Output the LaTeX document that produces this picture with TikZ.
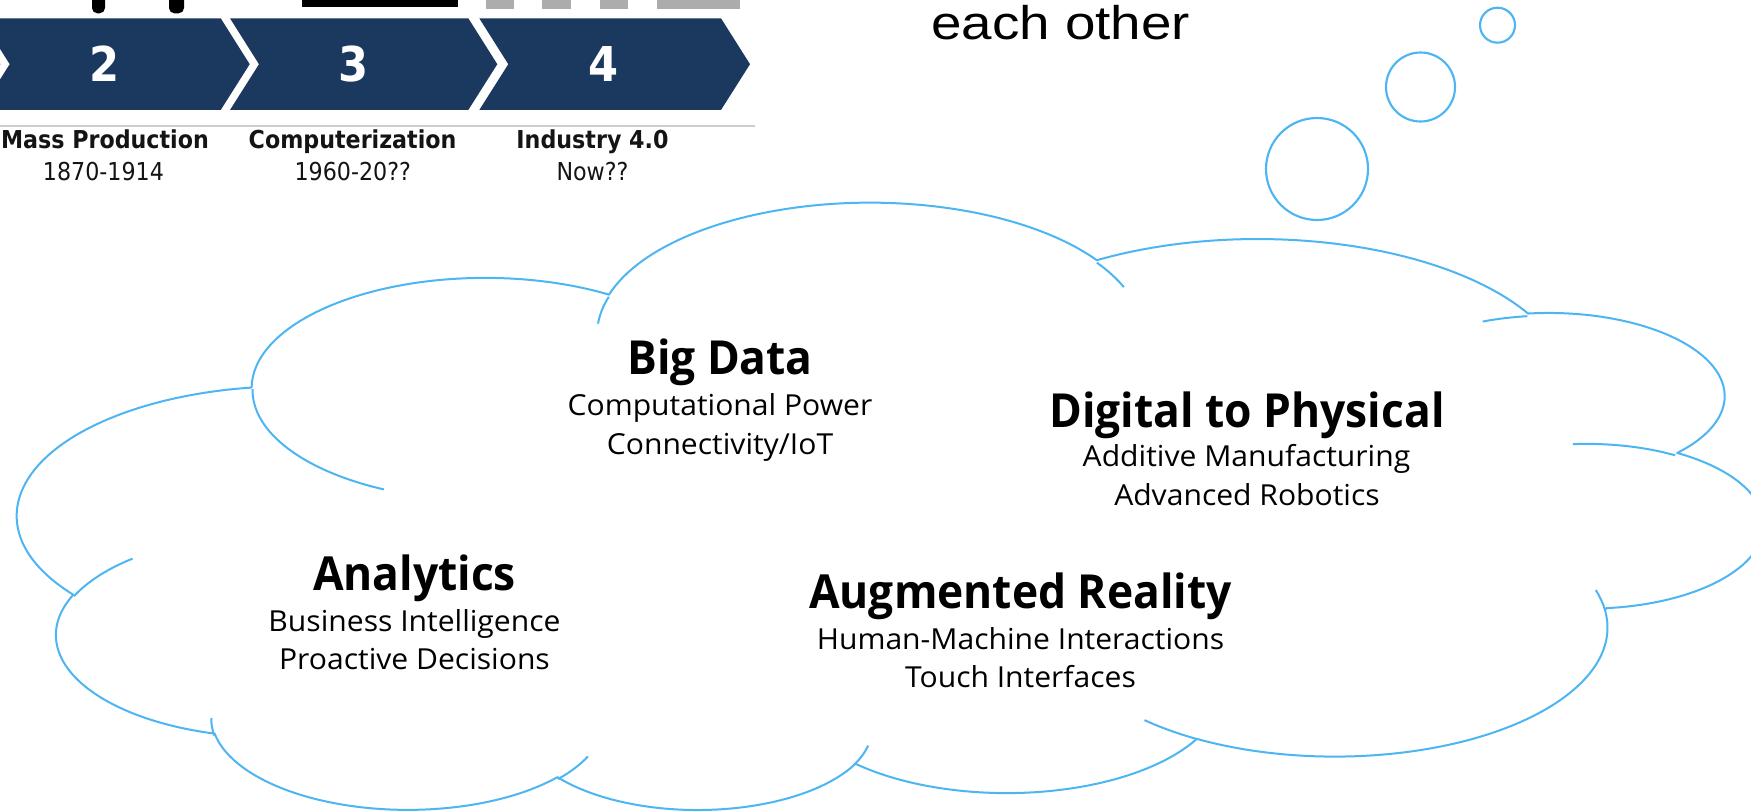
\documentclass[tikz,border=0pt]{standalone}
\usepackage{fontspec}
\setmainfont{Open Sans}
\newfontfamily\subfont[FakeStretch=1.04]{Open Sans}
\newfontfamily\headfont[FakeStretch=0.945]{Open Sans}
\newfontfamily\chevfont[FakeStretch=0.9]{DejaVu Sans}
\newfontfamily\notefont[FakeStretch=1.16]{Liberation Sans}

\definecolor{cloudblue}{RGB}{77,182,242}
\definecolor{navy}{RGB}{27,56,94}
\definecolor{inkdark}{RGB}{20,20,20}
\definecolor{railgray}{RGB}{172,172,172}
\definecolor{rulegray}{RGB}{205,205,205}

% one arc of the cloud outline: x-radius, y-radius, start angle, sweep
% (angles are measured on the ellipse as seen, converted to parametric angles)
\newcommand\cloudarc[4]{arc[start angle={vpa(#3,#1,#2)}, end angle={vpa(#3+#4,#1,#2)}, x radius={#1/4}, y radius={#2/4}]}
% one chevron of the timeline band: left notch x, right edge x
\newcommand\chevronshape[2]{\fill[chevron] (#1,18.3) -- (#2,18.3) -- (#2+29,64.2) -- (#2,110) -- (#1,110) -- (#1+29,64.2) -- cycle;}

\tikzset{
  cloudline/.style={draw=cloudblue, line width=1.5pt, line join=round},
  bubble/.style={draw=cloudblue, line width=1.6pt, circle, inner sep=0pt, outer sep=0pt},
  headtext/.style={font=\headfont\bfseries\fontsize{35.2}{40}\selectfont, inner sep=0pt, anchor=base},
  subtext/.style={font=\subfont\fontsize{21.7}{26}\selectfont, inner sep=0pt, anchor=base},
  eralabel/.style={font=\chevfont\bfseries\fontsize{18.5}{22}\selectfont, text=inkdark, inner sep=0pt, anchor=base},
  erayears/.style={font=\chevfont\fontsize{18.5}{22}\selectfont, text=inkdark, inner sep=0pt, anchor=base},
  eranum/.style={font=\chevfont\bfseries\fontsize{36}{40}\selectfont, text=white, inner sep=0pt, anchor=base},
  chevron/.style={fill=navy, draw=none},
  notetext/.style={font=\notefont\fontsize{35.4}{40}\selectfont, inner sep=0pt, anchor=base west},
}

\begin{document}
\begin{tikzpicture}[x=0.75pt, y=-0.75pt,
  declare function={vpa(\va,\vw,\vh)=\va+mod(atan2(\vw*sin(\va),\vh*cos(\va))-\va+540,360)-180;}]
\useasboundingbox (0,0) rectangle (1751,812);
\fill[white] (0,0) rectangle (1751,812);
\clip (0,0) rectangle (1751,812);

% ---- timeline band ----
\fill[black, rounded corners=4pt] (92,-10) rectangle (105,13.3);
\fill[black, rounded corners=4pt] (169,-10) rectangle (184,13.3);
\fill[black] (302,-5) rectangle (458,7.3);
\fill[railgray] (486,-5) rectangle (514,9);
\fill[railgray] (542,-5) rectangle (571,9);
\fill[railgray] (600,-5) rectangle (628,9);
\fill[railgray] (657,-5) rectangle (740,9);

\chevronshape{-270}{-28.6}
\chevronshape{-19.3}{220.7}
\chevronshape{230}{468.3}
\chevronshape{479.3}{721}

\node[eranum] (n2) at (105,82) {2};
\node[eranum] (n3) at (353.5,82) {3};
\node[eranum] (n4) at (603.5,82) {4};

\draw[rulegray, line width=1pt] (0,126) -- (755,126);

\node[eralabel] (era2) at (105,149) {Mass Production};
\node[erayears] (yr2) at (103.5,181) {1870-1914};
\node[eralabel] (era3) at (352.6,148.5) {Computerization};
\node[erayears] (yr3) at (352.7,180.5) {1960-20??};
\node[eralabel] (era4) at (592.5,148.5) {Industry 4.0};
\node[erayears] (yr4) at (592.5,180.5) {Now??};

\node[notetext] (note) at (931,40) {each other};

% ---- thought bubbles ----
\node[bubble, minimum size=76.5pt] (bubbleA) at (1317,169) {};
\node[bubble, minimum size=51.75pt] (bubbleB) at (1420.5,87) {};
\node[bubble, minimum size=26.25pt] (bubbleC) at (1497.5,25.2) {};

% ---- cloud (drawn in its own 10800 x 10800 frame, turned half a turn) ----
\begin{scope}[shift={(1762.5,812)}, x={(-0.12118056pt,0pt)}, y={(0pt,0.04215278pt)}]
  \draw[cloudline] (975,3592.5)
    \cloudarc{6753}{9190}{-190.4875}{123.7805}
    \cloudarc{5333}{7267}{-144.1024}{89.9452}
    \cloudarc{4365}{5945}{-145.8079}{99.7230}
    \cloudarc{4857}{6595}{-130.9861}{117.2417}
    \cloudarc{5333}{7273}{-78.7089}{109.0269}
    \cloudarc{6775}{9220}{-46.2673}{130.2690}
    \cloudarc{5785}{7867}{0.6250}{114.0333}
    \cloudarc{6752}{9215}{22.4516}{115.1726}
    \cloudarc{7720}{10543}{66.2426}{75.7110}
    \cloudarc{4360}{5918}{-274.9421}{146.7356}
    \cloudarc{4345}{5945}{-246.8285}{152.5246}
    -- cycle;
  \draw[cloudline]
    (1173.25,6544.25) \cloudarc{4345}{5945}{86.7420}{26.4295}
    (1732,8724.75) \cloudarc{4360}{5918}{73.6105}{11.4475}
    (4119.5,9772.5) \cloudarc{6752}{9215}{137.6242}{14.0811}
    (7206.75,8687.75) \cloudarc{6752}{9215}{6.4533}{15.9984}
    (8532.25,5738.5) \cloudarc{5785}{7867}{-70.2924}{70.9174}
    (10449.5,3838.5) \cloudarc{5333}{7273}{30.3180}{27.7515}
    (9581,1356.5) \cloudarc{4857}{6595}{-13.7443}{14.8538}
    (7269.5,988) \cloudarc{4857}{6595}{-149.1815}{18.1934}
    (5535.25,1180) \cloudarc{4365}{5945}{-163.4943}{17.6954}
    (3500,1298) \cloudarc{6753}{9190}{-66.7070}{12.3194}
    (1031.75,3947.25) \cloudarc{6753}{9190}{157.6544}{11.8582};
\end{scope}

% ---- cloud texts ----
\node[headtext] (bigdata) at (720,375) {Big Data};
\node[subtext] (bigdata1) at (720,416) {Computational Power};
\node[subtext] (bigdata2) at (720,454) {Connectivity/IoT};

\node[headtext] (digital) at (1247,427.3) {Digital to Physical};
\node[subtext] (digital1) at (1246.5,466.7) {Additive Manufacturing};
\node[subtext] (digital2) at (1247,505) {Advanced Robotics};

\node[headtext] (analytics) at (414.5,590) {Analytics};
\node[subtext] (analytics1) at (414.5,631.7) {Business Intelligence};
\node[subtext] (analytics2) at (414.5,669.3) {Proactive Decisions};

\node[headtext] (augmented) at (1020.5,608.3) {Augmented Reality};
\node[subtext] (augmented1) at (1020.5,649.3) {Human-Machine Interactions};
\node[subtext] (augmented2) at (1020.5,687.3) {Touch Interfaces};
\end{tikzpicture}
\end{document}
